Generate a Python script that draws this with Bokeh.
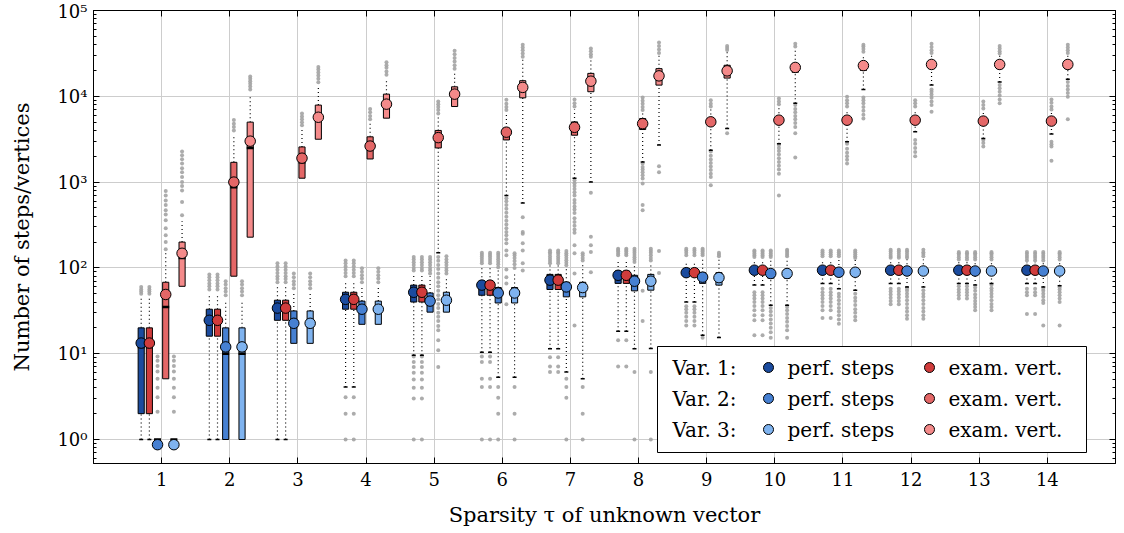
from bokeh.plotting import figure
from bokeh.models import (FixedTicker, LogAxis, LinearAxis, CustomJSTickFormatter,
                          BoxAnnotation, Label)
from bokeh.embed import file_html
from bokeh.resources import INLINE

# ---------------- data ----------------
taus = list(range(1, 15))
tick_decades = [1, 10, 100, 1000, 10000, 100000]

series_names = ["Var. 1 perf. steps", "Var. 1 exam. vert.", "Var. 2 perf. steps",
                "Var. 2 exam. vert.", "Var. 3 perf. steps", "Var. 3 exam. vert."]
row_labels = ["Var. 1:", "Var. 2:", "Var. 3:"]
col_labels = ["perf. steps", "exam. vert."]

# Var. 1 perf. steps
v1s_q1 = [2, 16, 24.5, 33, 40, 48, 56, 66, 80, 85, 86, 86, 86, 86]
v1s_med = [12, 23, 33, 42, 52, 62, 71, 80, 88, 93, 94, 94, 94, 94]
v1s_q3 = [20, 33, 42, 52, 63, 70, 84, 92, 98, 102, 102, 102, 102, 102]
v1s_lo = [1, 1, 1, 4.1, 9.6, 10.4, 11.4, 18.3, 40, 63, 66, 66, 66, 66]
v1s_hi = [44, 50, 60, 72, 86, 105, 108, 125, 120, 125, 125, 125, 118, 115]
v1s_mean = [13.3, 24.5, 34, 43, 52, 63, 72, 82, 88, 94, 94, 94, 94, 94]
v1s_out = [
    [50, 53, 56, 60],
    [56, 61, 66, 72, 78, 84],
    [68, 74, 80, 87, 95, 104, 113],
    [1, 2, 3.1, 80, 87, 95, 104, 113, 122],
    [1, 3, 4, 5, 6, 7, 8, 9.3, 93, 100, 108, 116, 125, 134],
    [1, 4.1, 5.1, 8, 9.3, 113, 120, 128, 136, 143, 150],
    [6.1, 7.1, 9.1, 113, 120, 128, 136, 145, 152, 160],
    [7.1, 14.3, 140, 147, 155, 162, 167],
    [21.3, 24, 27, 30, 33, 35.7, 140, 150, 160, 167],
    [16.4, 24.5, 28, 32, 36, 40, 44, 48, 52, 134, 140, 147, 154, 160],
    [26, 32, 36, 40, 44, 48, 52, 57, 137, 144, 152, 160],
    [37.6, 41, 45, 49, 53, 57, 131, 138, 146, 155, 163],
    [44, 48, 52, 56, 61, 125, 133, 141, 148, 153],
    [29, 48, 52, 57, 122, 130, 138, 146, 153],
]

# Var. 1 exam. vert. (coincides with Var. 1 perf. steps in the picture)
v1e_q1 = [2, 16, 24.5, 33, 40, 48, 56, 66, 80, 85, 86, 86, 86, 86]
v1e_med = [12, 23, 33, 42, 52, 62, 71, 80, 88, 93, 94, 94, 94, 94]
v1e_q3 = [20, 33, 42, 52, 63, 70, 84, 92, 98, 102, 102, 102, 102, 102]
v1e_lo = [1, 1, 1, 4.1, 9.6, 10.4, 11.4, 18.3, 40, 63, 66, 66, 66, 66]
v1e_hi = [44, 50, 60, 72, 86, 105, 108, 125, 120, 125, 125, 125, 118, 115]
v1e_mean = [13.3, 24.5, 34, 43, 52, 63, 72, 82, 88, 94, 94, 94, 94, 94]
v1e_out = [list(o) for o in v1s_out]

# Var. 2 perf. steps
v2s_q1 = [1, 1, 13.2, 22, 30.5, 39, 46, 54, 66, 76, 80, 84, 84, 84]
v2s_med = [1, 10, 21, 31, 40, 49, 58, 68, 78, 86, 89, 92, 92, 92]
v2s_q3 = [1, 20, 31.5, 41, 51, 59, 68, 82, 88, 95, 97, 99, 99, 99]
v2s_lo = [1, 1, 13.2, 22, 30.5, 5.3, 6.1, 11.4, 16.4, 36.6, 57, 60, 63, 60]
v2s_hi = [1, 40, 52, 62, 80, 95, 100, 110, 125, 125, 125, 125, 118, 115]
v2s_mean = [0.87, 12, 22.6, 33, 41, 51, 60, 70, 78, 86, 89, 92, 92, 92]
v2s_out = [
    [2.1, 3.1, 4, 5.1, 6.2, 7.2, 8.3, 9.3],
    [48, 53, 58, 64, 70],
    [58, 64, 70, 78, 86],
    [68, 75, 82, 90, 99],
    [86, 93, 100, 108, 116, 125, 134],
    [1, 2, 3.06, 4.1, 102, 110, 118, 126, 134, 142, 150],
    [1, 3.06, 4.1, 5.1, 107, 115, 123, 131, 140, 148, 157],
    [1, 6.1, 117, 125, 133, 141, 150, 158, 167],
    [15.3, 140, 147, 155, 162, 167],
    [15.3, 17.8, 20, 22.5, 25, 28, 31, 34, 134, 140, 147, 154, 160],
    [22.3, 25, 28, 31, 34, 38, 42, 46, 50, 137, 144, 152, 160],
    [25.5, 28, 31, 34, 38, 42, 46, 50, 54, 57, 131, 138, 146, 155, 163],
    [32, 35, 38, 41, 45, 49, 54, 59, 125, 133, 141, 148, 153],
    [21.3, 39, 42, 46, 50, 54, 57, 122, 130, 138, 146, 153],
]

# Var. 2 exam. vert.
v2e_q1 = [5.1, 80, 1110, 1860, 2500, 3100, 3520, 4100, 4600, 4800, 4800, 4800, 4700, 4700]
v2e_med = [35, 870, 1700, 2500, 3200, 3800, 4200, 4700, 5000, 5200, 5200, 5200, 5100, 5100]
v2e_q3 = [68, 1700, 2570, 3370, 4000, 4260, 5030, 5500, 5500, 5700, 5700, 5700, 5600, 5600]
v2e_lo = [5.1, 80, 1110, 1860, 150, 700, 1110, 1720, 2350, 2800, 2950, 3850, 3230, 3640]
v2e_hi = [150, 3500, 4200, 5000, 6000, 6500, 7000, 6500, 7000, 7500, 7000, 7000, 6800, 6600]
v2e_mean = [49, 1000, 1900, 2630, 3300, 3820, 4350, 4800, 5040, 5270, 5270, 5270, 5140, 5140]
v2e_out = [
    [165, 200, 240, 290, 360, 420, 470, 540, 610, 700, 787],
    [4000, 4400, 4800, 5300],
    [4600, 5000, 5400, 5800, 6300],
    [5400, 5900, 6500, 7100],
    [7, 11, 14.3, 18.7, 21, 24, 27, 30, 34, 38, 43, 48, 54, 61, 68, 77, 86, 97, 108, 121,
     134, 6300, 6900, 7500, 8100, 8700],
    [37.6, 66, 78, 96, 140, 160, 194, 215, 240, 262, 290, 320, 355, 395, 440, 490, 540, 600,
     650, 6900, 7500, 8200, 9100],
    [21.3, 86, 148, 184, 256, 280, 310, 343, 380, 435, 480, 520, 570, 620, 700, 760, 830, 900,
     970, 1050, 7600, 8300, 9200],
    [24, 54, 470, 540, 960, 1100, 1200, 1300, 1400, 1500, 1650, 6900, 7500, 8200, 8900, 9700],
    [920, 1150, 1250, 1380, 1520, 1670, 1840, 2030, 2270, 7600, 8200, 9000],
    [700, 1250, 1400, 1550, 1720, 1900, 2100, 2300, 2500, 2700, 8100, 8700, 9400],
    [1650, 1820, 2000, 2200, 2450, 2800, 7600, 8300, 9000, 9900],
    [2000, 2250, 2500, 2800, 3100, 7600, 8300, 9000],
    [2600, 2850, 3100, 7200, 7900, 8700],
    [1770, 2600, 2770, 2950, 7000, 7600, 8400, 9200],
]

# Var. 3 perf. steps
v3s_q1 = [1, 1, 13.2, 22, 30.5, 39, 46, 55, 63, 76, 80, 84, 84, 84]
v3s_med = [1, 10, 21, 31, 40, 49, 58, 68, 77, 86, 89, 92, 92, 92]
v3s_q3 = [1, 20, 31.5, 41, 52, 59, 68, 84, 88, 95, 97, 99, 99, 99]
v3s_lo = [1, 1, 13.2, 22, 30.5, 5.3, 5.1, 11.5, 15.4, 36.6, 55, 60, 66, 62]
v3s_hi = [1, 40, 52, 62, 80, 90, 110, 110, 125, 125, 125, 125, 118, 118]
v3s_mean = [0.87, 12, 22.6, 33, 42, 51, 59, 70, 77, 86, 89, 92, 92, 92]
v3s_out = [
    [2.1, 3.1, 4, 5.1, 6.2, 7.2, 8.3, 9.3],
    [48, 53, 58, 64, 70],
    [58, 64, 70, 78, 86],
    [68, 75, 82, 90, 99],
    [86, 93, 100, 108, 116, 125, 137],
    [1, 2, 4.1, 100, 110, 120, 130, 140, 148],
    [1, 2, 4.1, 122, 130, 140, 148],
    [1, 6.1, 122, 130, 140, 150, 158, 167],
    [137, 143, 150],
    [15.3, 18.7, 21, 23.5, 26, 29, 32, 35, 137, 143, 150, 157, 163],
    [24.5, 27, 30, 33, 37, 41, 45, 50, 130, 137, 144, 152, 160],
    [25.5, 28, 31, 34, 38, 42, 46, 50, 55, 137, 145, 152, 163],
    [32, 35, 38, 42, 46, 50, 54, 58, 63, 125, 133, 141, 148, 153],
    [21.3, 40, 44, 48, 52, 56, 59, 125, 133, 141, 148, 153],
]

# Var. 3 exam. vert.
v3e_q1 = [61, 228, 3160, 5560, 7600, 9600, 11300, 13500, 16300, 19000, 20000, 21000, 21000, 21000]
v3e_med = [130, 2500, 5500, 8000, 10000, 13000, 15000, 17500, 20000, 22000, 23000, 23500, 23500, 23500]
v3e_q3 = [200, 5000, 7900, 10600, 12900, 15200, 18500, 21000, 23000, 24000, 25000, 26000, 26000, 26000]
v3e_lo = [61, 228, 3160, 5560, 7600, 570, 1000, 2700, 4200, 8300, 12000, 13500, 14700, 15800]
v3e_hi = [350, 10000, 13000, 16000, 19000, 27000, 27000, 30000, 33000, 36000, 31000, 30000, 30000, 30000]
v3e_mean = [148, 3000, 5700, 8100, 10600, 12700, 15000, 17300, 19800, 21700, 22800, 23500, 23500, 23500]
v3e_out = [
    [410, 585, 800, 900, 1000, 1150, 1300, 1450, 1650, 1850, 2050, 2270],
    [12000, 13000, 14000, 15000, 16000, 17000],
    [14600, 16000, 17500, 19000, 20500, 22000],
    [17800, 19500, 21500, 23000, 25000],
    [21000, 23000, 25500, 28000, 31000, 34000],
    [93, 113, 160, 194, 250, 262, 390, 29000, 31500, 34500, 37000, 40000],
    [89, 153, 184, 230, 750, 29000, 31000, 33500, 36000],
    [87, 157, 1300, 1530, 32000, 35000, 38500, 42500],
    [3700, 34600, 36500, 38600],
    [1930, 3700, 4400, 4900, 5400, 5900, 6500, 7100, 7900, 38000, 41000],
    [5500, 6100, 6800, 7500, 8300, 9000, 9700, 33000, 35500, 38000, 40000],
    [6600, 7900, 8700, 9600, 10500, 11300, 12000, 32000, 34500, 37500, 41000],
    [8300, 9200, 10200, 11300, 12400, 13500, 31500, 33500, 36000, 38600],
    [5400, 9900, 10900, 12000, 13200, 14700, 32000, 34500, 37000, 40000],
]

# ---------------- styling ----------------
FONT = "DejaVu Serif"
colors = ["#1b4b9e", "#d03c3c", "#4680d2", "#e46767", "#7fb3ef", "#f48a8a"]
offsets = [-0.3, -0.18, -0.06, 0.06, 0.18, 0.3]
box_w = 0.09
out_color = "#a3a3a3"

series = [
    (v1s_q1, v1s_med, v1s_q3, v1s_lo, v1s_hi, v1s_mean, v1s_out),
    (v1e_q1, v1e_med, v1e_q3, v1e_lo, v1e_hi, v1e_mean, v1e_out),
    (v2s_q1, v2s_med, v2s_q3, v2s_lo, v2s_hi, v2s_mean, v2s_out),
    (v2e_q1, v2e_med, v2e_q3, v2e_lo, v2e_hi, v2e_mean, v2e_out),
    (v3s_q1, v3s_med, v3s_q3, v3s_lo, v3s_hi, v3s_mean, v3s_out),
    (v3e_q1, v3e_med, v3e_q3, v3e_lo, v3e_hi, v3e_mean, v3e_out),
]

p = figure(width=1124, height=533, y_axis_type="log", x_range=(0, 15), y_range=(0.525, 1e5),
           output_backend="svg", toolbar_location=None,
           min_border_left=93, min_border_right=9, min_border_top=10, min_border_bottom=70)
p.background_fill_color = "white"
p.border_fill_color = "white"
p.outline_line_color = "black"
p.outline_line_width = 1

minor = [m * d for d in [0.1] + tick_decades[:-1] for m in range(2, 10)]
yticker = FixedTicker(ticks=tick_decades, minor_ticks=minor)
xticker = FixedTicker(ticks=taus, minor_ticks=[])

sup_code = """
const s = ["\u2070","\u00b9","\u00b2","\u00b3","\u2074","\u2075","\u2076","\u2077","\u2078","\u2079"];
const e = Math.round(Math.log10(tick));
return "10" + s[e];
"""

p.xaxis.ticker = xticker
p.yaxis.ticker = yticker
p.yaxis.formatter = CustomJSTickFormatter(code=sup_code)
p.xgrid.ticker = xticker
p.ygrid.ticker = yticker
p.grid.grid_line_color = "#cdcdcd"
p.grid.grid_line_width = 1

for ax in (p.xaxis[0], p.yaxis[0]):
    ax.major_tick_in = 6
    ax.major_tick_out = 0
    ax.minor_tick_in = 3
    ax.minor_tick_out = 0
    ax.axis_line_color = "black"
    ax.major_tick_line_color = "black"
    ax.minor_tick_line_color = "black"
    ax.major_label_text_font = FONT
    ax.major_label_text_font_size = "18px"
    ax.major_label_text_color = "black"
    ax.axis_label_text_font = FONT
    ax.axis_label_text_font_size = "21px"
    ax.axis_label_text_font_style = "normal"
    ax.axis_label_text_color = "black"

p.xaxis.axis_label = "Sparsity \u03c4 of unknown vector"
p.yaxis.axis_label = "Number of steps/vertices"
p.xaxis.major_label_standoff = 8
p.xaxis.axis_label_standoff = 14
p.yaxis.major_label_standoff = 6
p.yaxis.axis_label_standoff = 20

blank = CustomJSTickFormatter(code="return '';")
right_ax = LogAxis(ticker=yticker, formatter=blank, major_tick_in=6,
                   major_tick_out=0, minor_tick_in=3, minor_tick_out=0,
                   axis_line_color="black", major_label_standoff=0)
p.add_layout(right_ax, "right")
top_ax = LinearAxis(ticker=xticker, formatter=blank, major_tick_in=6,
                    major_tick_out=0, minor_tick_in=0, minor_tick_out=0,
                    axis_line_color="black", major_label_standoff=0)
p.add_layout(top_ax, "above")

# outliers first
for (q1, med, q3, lo, hi, mean, outl), off in zip(series, offsets):
    ox = [t + off for t, o in zip(taus, outl) for _ in o]
    oy = [v for o in outl for v in o]
    p.scatter(ox, oy, size=4, fill_color=out_color, line_color=None, fill_alpha=0.9)

for (q1, med, q3, lo, hi, mean, outl), off, col in zip(series, offsets, colors):
    xs = [t + off for t in taus]
    p.segment(x0=xs, y0=lo, x1=xs, y1=q1, line_color="black", line_width=1.2, line_dash="1 3")
    p.segment(x0=xs, y0=q3, x1=xs, y1=hi, line_color="black", line_width=1.2, line_dash="1 3")
    clx = [x for x, a, b in zip(xs, lo, q1) if a < b]
    cly = [a for a, b in zip(lo, q1) if a < b]
    p.scatter(clx, cly, marker="dash", size=4, line_color="black", line_width=1.5)
    p.vbar(x=xs, width=box_w, top=q3, bottom=q1, fill_color=col, line_color="black", line_width=1)
    p.scatter(xs, med, marker="dash", size=7, line_color="black", line_width=2.5)
    p.scatter(xs, mean, marker="circle", size=10.5, fill_color=col, line_color="black", line_width=1)

# ---------------- legend (screen units, relative to the frame) ----------------
leg = BoxAnnotation(left=564, right=993, bottom=11, top=117, left_units="screen",
                    right_units="screen", top_units="screen", bottom_units="screen",
                    fill_color="white", fill_alpha=1, line_color="black", line_width=1,
                    line_alpha=1)
p.add_layout(leg)
row_y = [96, 65, 34]
for r, (lab, yy) in enumerate(zip(row_labels, row_y)):
    p.add_layout(Label(x=579, y=yy, x_units="screen", y_units="screen", text=lab,
                       text_baseline="middle", text_font=FONT, text_font_size="20px",
                       text_color="black"))
    for c, (cl, mx) in enumerate(zip(col_labels, [675, 836])):
        col = colors[2 * r + c]
        p.add_layout(BoxAnnotation(left=mx - 5, right=mx + 5, bottom=yy - 5, top=yy + 5,
                                   left_units="screen", right_units="screen",
                                   top_units="screen", bottom_units="screen",
                                   fill_color=col, fill_alpha=1, line_color="black",
                                   line_width=1, line_alpha=1, border_radius=5))
        p.add_layout(Label(x=mx + 19, y=yy, x_units="screen", y_units="screen", text=cl,
                           text_baseline="middle", text_font=FONT, text_font_size="20px",
                           text_color="black"))

open("out.html", "w").write(file_html(p, INLINE))
